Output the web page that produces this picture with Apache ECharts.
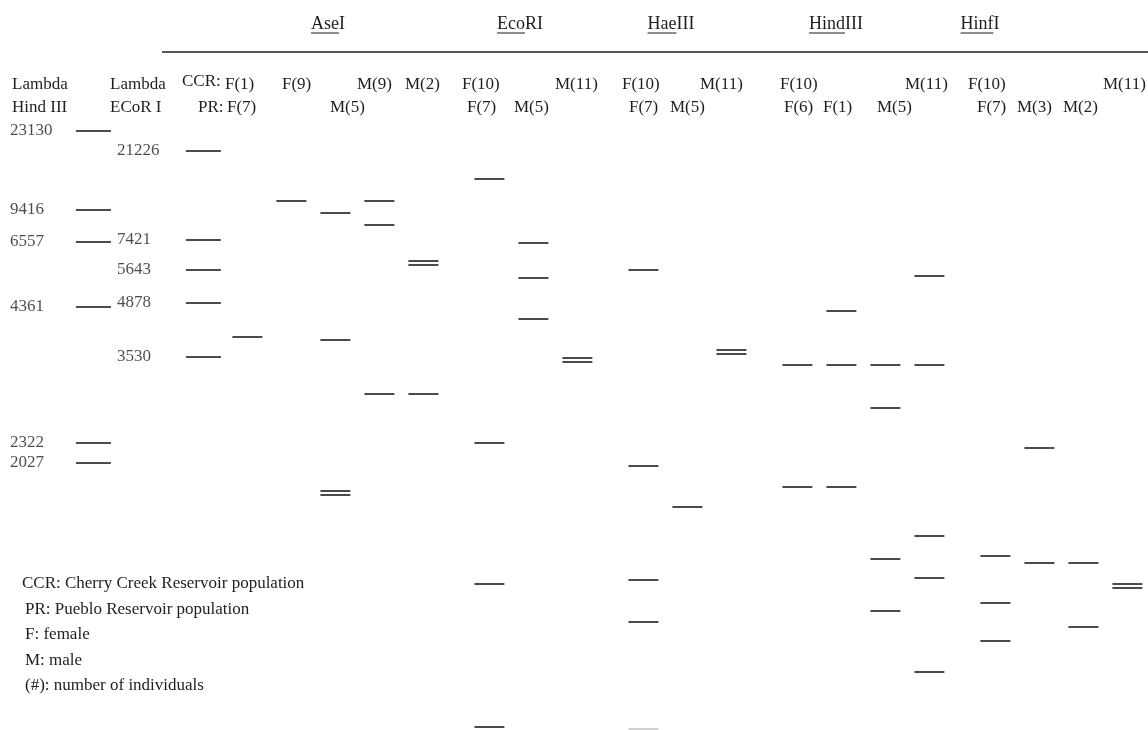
<!DOCTYPE html>
<html>
<head>
<meta charset="utf-8">
<script src="https://cdn.jsdelivr.net/npm/echarts@6/dist/echarts.min.js"></script>
<style>
  html, body { margin: 0; padding: 0; background: #fff; }
  #main { width: 1148px; height: 730px; }
</style>
</head>
<body>
<div id="main"></div>
<script>
// lanes of the gel, blank entries are empty spacing between lanes
const lanes = [
    'Lambda HindIII', ' 1', ' 2', ' 3', ' 4', 'Lambda EcoRI', ' 5',
    'AseI F(1)/F(7)', ' 6', 'AseI F(9)', ' 7', 'AseI M(5)', ' 8', 'AseI M(9)', ' 9', 'AseI M(2)', ' 10', ' 11',
    'EcoRI F(10)/F(7)', ' 12', 'EcoRI M(5)', ' 13', 'EcoRI M(11)', ' 14', ' 15',
    'HaeIII F(10)/F(7)', ' 16', 'HaeIII M(5)', ' 17', 'HaeIII M(11)', ' 18', ' 19',
    'HindIII F(10)/F(6)', ' 20', 'HindIII F(1)', ' 21', 'HindIII M(5)', ' 22', 'HindIII M(11)', ' 23', ' 24',
    'HinfI F(10)/F(7)', ' 25', 'HinfI M(3)', ' 26', 'HinfI M(2)', ' 27', 'HinfI M(11)'
];

// size ladders (bp) and their migration distance
const hindMarkerSizes = [23130, 9416, 6557, 4361, 2322, 2027];
const hindMarkerDist = [131, 210, 242, 307, 443, 463];
const ecoMarkerSizes = [21226, 7421, 5643, 4878, 3530];
const ecoMarkerDist = [151, 240, 270, 303, 357];

// sample bands, migration distance
const aseF1F7 = [337];
const aseF9 = [201];
const aseM5 = [213, 340, 491, 495];
const aseM9 = [201, 225, 394];
const aseM2 = [261, 265, 394];

const ecoF10F7 = [179, 443, 584, 727];
const ecoM5 = [243, 278, 319];
const ecoM11 = [358, 362];

const haeF10F7 = [270, 466, 580, 622];
const haeM5 = [507];
const haeM11 = [350, 354];
const haeFaint = [729];

const hindF10F6 = [365, 487];
const hindF1 = [311, 365, 487];
const hindM5 = [365, 408, 559, 611];
const hindM11 = [276, 365, 536, 578, 672];

const hinfF10F7 = [556, 603, 641];
const hinfM3 = [448, 563];
const hinfM2 = [563, 627];
const hinfM11 = [584, 588];

const sampleLanes = [
    ['AseI F(1)/F(7)', aseF1F7], ['AseI F(9)', aseF9], ['AseI M(5)', aseM5], ['AseI M(9)', aseM9], ['AseI M(2)', aseM2],
    ['EcoRI F(10)/F(7)', ecoF10F7], ['EcoRI M(5)', ecoM5], ['EcoRI M(11)', ecoM11],
    ['HaeIII F(10)/F(7)', haeF10F7], ['HaeIII M(5)', haeM5], ['HaeIII M(11)', haeM11],
    ['HindIII F(10)/F(6)', hindF10F6], ['HindIII F(1)', hindF1], ['HindIII M(5)', hindM5], ['HindIII M(11)', hindM11],
    ['HinfI F(10)/F(7)', hinfF10F7], ['HinfI M(3)', hinfM3], ['HinfI M(2)', hinfM2], ['HinfI M(11)', hinfM11]
];

const enzymes = ['Ase', 'Eco', 'Hae', 'Hind', 'Hinf'];
const enzymeRest = ['I', 'RI', 'III', 'III', 'I'];

const headerTop = ['Lambda', 'Lambda', 'CCR:', 'F(1)', 'F(9)', 'M(9)', 'M(2)', 'F(10)', 'M(11)', 'F(10)', 'M(11)', 'F(10)', 'M(11)', 'F(10)', 'M(11)'];
const headerBottom = ['Hind III', 'ECoR I', 'PR:', 'F(7)', 'M(5)', 'F(7)', 'M(5)', 'F(7)', 'M(5)', 'F(6)', 'F(1)', 'M(5)', 'F(7)', 'M(3)', 'M(2)'];

const notes = [
    'CCR: Cherry Creek Reservoir population',
    'PR: Pueblo Reservoir population',
    'F: female',
    'M: male',
    '(#): number of individuals'
];

// text placement
const topX = [12, 110, 182, 225, 282, 357, 405, 462, 555, 622, 700, 780, 905, 968, 1103];
const bottomX = [12, 110, 198, 227, 330, 467, 514, 629, 670, 784, 823, 877, 977, 1017, 1063];
const enzymeCx = [328, 520, 671, 836, 980];

const FONT = '"Liberation Serif", "Times New Roman", serif';
const INK = '#1e1e1e';

const ctx = document.createElement('canvas').getContext('2d');
function textWidth(s, size) {
    ctx.font = size + 'px ' + FONT;
    return ctx.measureText(s).width;
}

function laneData(name, values) {
    const i = lanes.indexOf(name);
    return values.map(v => [i, v]);
}

const sampleData = [];
sampleLanes.forEach(([name, vals]) => sampleData.push(...laneData(name, vals)));

const graphics = [];
// enzyme titles with underlined prefix
enzymes.forEach((e, k) => {
    const size = 18;
    const w1 = textWidth(e, size);
    const w = textWidth(e + enzymeRest[k], size);
    const x0 = enzymeCx[k] - w / 2;
    graphics.push({
        type: 'text', silent: true,
        style: { text: e + enzymeRest[k], x: x0, y: 24, font: size + 'px ' + FONT, fill: INK, verticalAlign: 'middle' }
    });
    graphics.push({
        type: 'line', silent: true,
        shape: { x1: x0, y1: 33, x2: x0 + w1, y2: 33 },
        style: { stroke: INK, lineWidth: 1 }
    });
});
graphics.push({
    type: 'line', silent: true,
    shape: { x1: 162, y1: 52, x2: 1148, y2: 52 },
    style: { stroke: INK, lineWidth: 1.6 }
});
headerTop.forEach((t, k) => {
    graphics.push({
        type: 'text', silent: true,
        style: { text: t, x: topX[k], y: t === 'CCR:' ? 82 : 85, font: '17px ' + FONT, fill: INK, verticalAlign: 'middle' }
    });
});
headerBottom.forEach((t, k) => {
    graphics.push({
        type: 'text', silent: true,
        style: { text: t, x: bottomX[k], y: 108, font: '17px ' + FONT, fill: INK, verticalAlign: 'middle' }
    });
});
notes.forEach((t, k) => {
    graphics.push({
        type: 'text', silent: true,
        style: { text: t, x: k === 0 ? 22 : 25, y: 584 + k * 25.5, font: '17px ' + FONT, fill: INK, verticalAlign: 'middle' }
    });
});

const chart = echarts.init(document.getElementById('main'));

const markerLabel = (sizes, dx) => ({
    show: true,
    formatter: p => String(sizes[p.dataIndex]),
    position: [dx, 1],
    align: 'left',
    verticalAlign: 'middle',
    fontFamily: FONT,
    fontSize: 17,
    color: INK
});

const option = {
    animation: false,
    backgroundColor: '#fff',
    grid: { left: 82.4, width: 1056, top: 0, height: 730 },
    xAxis: {
        type: 'category',
        data: lanes,
        show: false
    },
    yAxis: {
        type: 'value',
        inverse: true,
        min: 0,
        max: 730,
        show: false
    },
    graphic: graphics,
    series: [
        {
            name: 'Lambda HindIII',
            type: 'scatter',
            symbol: 'rect',
            symbolSize: [35, 2],
            itemStyle: { color: INK },
            data: laneData('Lambda HindIII', hindMarkerDist),
            label: markerLabel(hindMarkerSizes, -66)
        },
        {
            name: 'Lambda EcoRI',
            type: 'scatter',
            symbol: 'rect',
            symbolSize: [35, 2],
            itemStyle: { color: INK },
            data: laneData('Lambda EcoRI', ecoMarkerDist),
            label: markerLabel(ecoMarkerSizes, -69)
        },
        {
            name: 'bands',
            type: 'scatter',
            symbol: 'rect',
            symbolSize: [30, 2],
            itemStyle: { color: INK },
            data: sampleData
        },
        {
            name: 'faint',
            type: 'scatter',
            symbol: 'rect',
            symbolSize: [30, 2],
            itemStyle: { color: '#c4c4c4' },
            data: laneData('HaeIII F(10)/F(7)', haeFaint)
        }
    ]
};

chart.setOption(option);
</script>
</body>
</html>
